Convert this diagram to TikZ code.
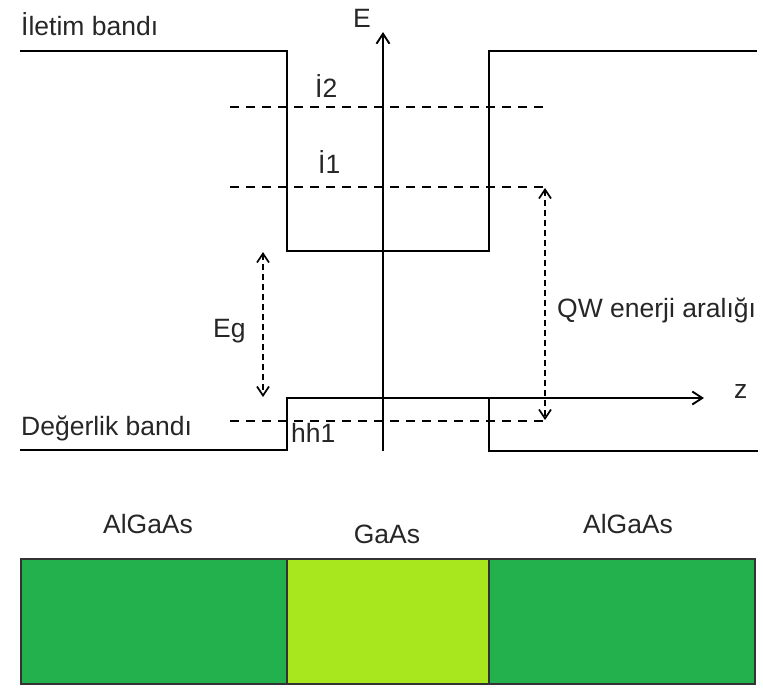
\documentclass[tikz,border=0pt]{standalone}
\usepackage{fontspec}
\setmainfont{Liberation Sans}
\usetikzlibrary{arrows.meta}
\definecolor{alg}{HTML}{22B14C}
\definecolor{gas}{HTML}{A8E61D}
\definecolor{txt}{HTML}{262626}
\begin{document}
\begin{tikzpicture}[x=1pt,y=-1pt,
  band/.style={line width=2pt,line join=miter},
  level/.style={line width=1.8pt,dash pattern=on 9pt off 7pt},
  gap/.style={line width=1.7pt,dash pattern=on 6pt off 4pt,{Straight Barb[length=9pt,width=12pt]}-{Straight Barb[length=9pt,width=12pt]}},
  axis/.style={line width=1.9pt,-{Straight Barb[length=10pt,width=13pt]}},
  lbl/.style={inner sep=0pt,text=txt,font=\fontsize{26.5}{31}\selectfont},
  layer/.style={draw=black!80,line width=1.6pt}]
\useasboundingbox (0,0) rectangle (763,691);
% band edges
\coordinate (c0) at (20,51);
\coordinate (c1) at (287,51);
\coordinate (c2) at (287,251);
\coordinate (c3) at (489,251);
\coordinate (c4) at (489,51);
\coordinate (c5) at (757,51);
\coordinate (v0) at (20,450);
\coordinate (v1) at (287,450);
\coordinate (v2) at (287,398);
\coordinate (v3) at (489,398);
\coordinate (v4) at (489,451);
\coordinate (v5) at (758,451);
\draw[band] (c0) -- (c1) -- (c2) -- (c3) -- (c4) -- (c5);
\draw[band] (v0) -- (v1) -- (v2) -- (v3) -- (v4) -- (v5);
% axes
\coordinate (eb) at (383,451);
\coordinate (et) at (383,32);
\draw[axis] (eb) -- (et);
\coordinate (zs) at (287,398);
\coordinate (ze) at (704,398);
\draw[axis] (zs) -- (ze);
% levels
\coordinate (i2a) at (230,107); \coordinate (i2b) at (547,107);
\coordinate (i1a) at (230,187); \coordinate (i1b) at (545,187);
\coordinate (h1a) at (230,421); \coordinate (h1b) at (545,421);
\draw[level] (i2a) -- (i2b);
\draw[level] (i1a) -- (i1b);
\draw[level] (h1a) -- (h1b);
% gaps
\coordinate (ega) at (263,252); \coordinate (egb) at (263,397);
\draw[gap] (ega) -- (egb);
\coordinate (qwa) at (545,188); \coordinate (qwb) at (545,420);
\draw[gap] (qwa) -- (qwb);
% labels
\node[lbl,anchor=base west] (tcb) at (21,35) {İletim bandı};
\node[lbl,anchor=base west] (tvb) at (21,435) {Değerlik bandı};
\node[lbl,anchor=base west] (tE) at (353,27) {E};
\node[lbl,anchor=base west] (tz) at (734,398) {z};
\node[lbl,anchor=base west] (ti2) at (315,97) {İ2};
\node[lbl,anchor=base west] (ti1) at (318,173) {İ1};
\node[lbl,anchor=base west] (thh) at (291,442) {hh1};
\node[lbl,anchor=base west] (teg) at (213,337) {Eg};
\node[lbl,anchor=base west] (tqw) at (557,317) {QW enerji aralığı};
% layers
\draw[layer,fill=alg] (21,559) rectangle (287,684);
\draw[layer,fill=gas] (287,559) rectangle (489,684);
\draw[layer,fill=alg] (489,559) rectangle (755,684);
\node[lbl,anchor=base] (tl) at (148,533) {AlGaAs};
\node[lbl,anchor=base] (tm) at (387,543) {GaAs};
\node[lbl,anchor=base] (tr) at (628,533) {AlGaAs};
\end{tikzpicture}
\end{document}
